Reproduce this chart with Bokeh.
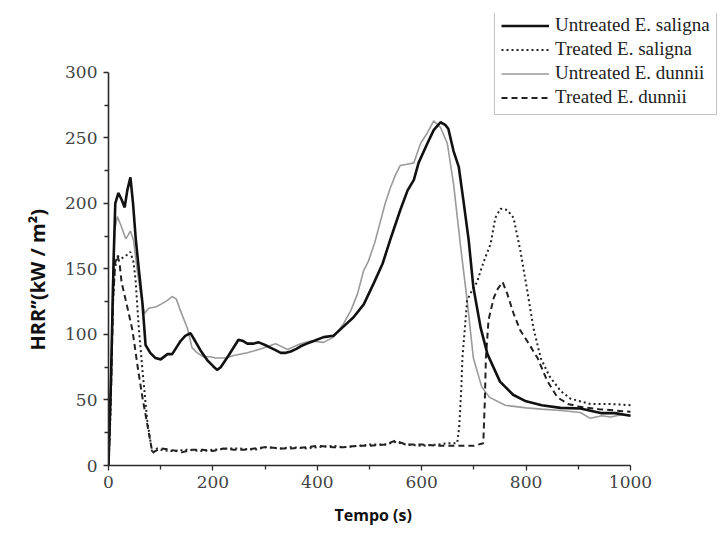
from bokeh.plotting import figure
from bokeh.models import Range1d, FixedTicker, Legend, LegendItem, Title
from bokeh.embed import file_html
from bokeh.resources import INLINE

# ---- data ----
us_x = [0, 5, 10, 13, 19, 25, 31, 36, 42, 47, 52, 58, 65, 71, 80, 90, 100, 113, 122, 130,
        138, 147, 157, 166, 176, 190, 200, 208, 215, 230, 249, 258, 266, 277, 288, 300,
        310, 320, 330, 340, 349, 360, 368, 380, 393, 412, 431, 450, 469, 489, 508, 525,
        542, 559, 573, 585, 594, 611, 623, 636, 645, 651, 661, 671, 680, 690, 699, 713,
        726, 750, 775, 800, 830, 866, 904, 943, 970, 1000]
us_y = [0, 70, 160, 200, 208, 203, 197, 210, 220, 200, 174, 150, 124, 92, 86, 82, 81, 85,
        85, 90, 95, 99, 101, 95, 88, 80, 76, 73, 75, 84, 96, 95, 93, 93, 94, 92, 90, 88,
        86, 86, 87, 89, 91, 93, 95, 98, 99, 106, 113, 123, 139, 154, 175, 195, 210, 218,
        231, 246, 256, 262, 260, 257, 240, 228, 202, 172, 136, 105, 85, 64, 54, 49, 46,
        44, 43.5, 40, 40, 38]

ts_x = [0, 4, 8, 12, 17, 25, 33, 42, 48, 52, 58, 65, 74, 84, 93, 100, 120, 150, 180, 200,
        230, 250, 280, 300, 330, 350, 380, 400, 430, 450, 480, 500, 530, 550, 570, 600,
        630, 650, 668, 672, 676, 678, 687, 697, 706, 714, 722, 732, 741, 751, 764, 776,
        789, 802, 814, 828, 845, 866, 885, 923, 960, 1000]
ts_y = [0, 40, 120, 150, 160, 158, 160, 163, 155, 141, 105, 73, 35, 9, 13, 12, 11, 12, 11,
        12, 13, 13, 12, 14, 13, 14, 13, 14, 15, 14, 15, 16, 16, 18, 16, 15, 16, 17, 17,
        30, 60, 82, 126, 134, 140, 150, 159, 169, 189, 196, 195, 189, 164, 134, 105, 82,
        68, 57, 51, 47, 47, 46]

ud_x = [0, 4, 8, 12, 17, 25, 33, 38, 42, 48, 55, 62, 69, 77, 90, 100, 113, 122, 130, 138,
        151, 160, 170, 182, 195, 205, 224, 240, 266, 291, 320, 343, 368, 387, 412, 431,
        450, 464, 477, 489, 498, 510, 520, 530, 540, 550, 559, 572, 585, 598, 611, 623,
        636, 649, 661, 674, 687, 699, 715, 730, 760, 800, 830, 866, 904, 923, 945, 962,
        985, 1000]
ud_y = [0, 50, 140, 180, 190, 182, 173, 176, 179, 172, 149, 130, 116, 120, 121, 123, 126,
        129, 127, 118, 105, 90, 86, 83, 83, 82, 82, 84, 86, 89, 93, 88.5, 93, 95, 94, 98,
        108, 118, 131, 149, 156, 170, 185, 200, 212, 222, 229, 230, 231, 246, 254, 263,
        258, 246, 215, 169, 126, 82, 60, 52, 46, 44, 43, 42, 40.5, 36, 38, 37, 39, 38]

td_x = [0, 5, 9, 13, 17, 21, 25, 36, 46, 56, 65, 74, 84, 100, 120, 140, 160, 180, 200, 220,
        240, 260, 280, 300, 330, 350, 380, 400, 430, 450, 480, 500, 530, 550, 570, 600,
        630, 650, 680, 700, 718, 721, 723, 728, 738, 746, 755, 764, 776, 789, 802, 822,
        840, 860, 880, 900, 940, 970, 1000]
td_y = [0, 60, 130, 155, 160, 155, 140, 121, 103, 75, 52, 32, 10, 13, 12, 10, 12, 12, 11,
        13, 12, 12, 13, 14, 13, 13, 14, 15, 14, 14, 15, 15, 16, 19, 16, 16, 15, 15, 15,
        15, 17, 50, 82, 111, 128, 135, 140, 131, 116, 103, 95, 82, 65, 52, 47, 45, 43,
        42, 41]

x_ticks = [0, 200, 400, 600, 800, 1000]
x_minor = [100, 300, 500, 700, 900]
y_ticks = [0, 50, 100, 150, 200, 250, 300]
y_minor = [25, 75, 125, 175, 225, 275]

labels = ["Untreated E. saligna", "Treated E. saligna", "Untreated E. dunnii", "Treated E. dunnii"]
x_title = "Tempo (s)"
y_title = "HRR’’(kW / m²)"

# The frame is widened to the window's right edge and raised to near its top so the
# legend (which sits partly outside the data area in the reference) is not clipped;
# the axes themselves are bounded to 0-1000 and 0-300.
p = figure(width=725, height=538, output_backend="svg", toolbar_location=None,
           x_range=Range1d(0, 1182), y_range=Range1d(0, 345),
           min_border_left=108, min_border_right=0, min_border_top=13, min_border_bottom=73)
p.background_fill_color = "white"
p.border_fill_color = "white"
p.outline_line_color = None
p.grid.visible = False

r_ud = p.line(ud_x, ud_y, line_color="#9a9a9a", line_width=1.6)
r_td = p.line(td_x, td_y, line_color="#222222", line_width=2.0, line_dash="6 4")
r_ts = p.line(ts_x, ts_y, line_color="#222222", line_width=2.0, line_dash="2 3")
r_us = p.line(us_x, us_y, line_color="#111111", line_width=2.6)

for ax in (p.xaxis[0], p.yaxis[0]):
    ax.axis_line_color = "#2a2a2a"
    ax.axis_line_width = 1.6
    ax.major_tick_line_color = "#2a2a2a"
    ax.minor_tick_line_color = "#2a2a2a"
    ax.major_tick_line_width = 1.3
    ax.minor_tick_line_width = 1.3
    ax.major_tick_out = 5
    ax.major_tick_in = 0
    ax.minor_tick_out = 4
    ax.minor_tick_in = 0
    ax.major_label_text_font = "DejaVu Serif"
    ax.major_label_text_font_size = "17px"
    ax.major_label_text_color = "#444444"

p.xaxis[0].bounds = (x_ticks[0], x_ticks[-1])
p.yaxis[0].bounds = (y_ticks[0], y_ticks[-1])
p.xaxis[0].ticker = FixedTicker(ticks=x_ticks, minor_ticks=x_minor)
p.yaxis[0].ticker = FixedTicker(ticks=y_ticks, minor_ticks=y_minor)
p.xaxis[0].major_label_standoff = 5
p.yaxis[0].major_label_standoff = 6

# axis titles, offset so they are centred on the bounded axes
xt = Title(text=x_title, align="left", offset=226, text_font="Open Sans",
           text_font_style="bold", text_font_size="16px", text_color="#111111", standoff=23)
yt = Title(text=y_title, align="left", offset=115, text_font="Open Sans",
           text_font_style="bold", text_font_size="20px", text_color="#111111", standoff=24)
p.add_layout(xt, "below")
p.add_layout(yt, "left")

legend = Legend(items=[LegendItem(label=labels[0], renderers=[r_us]),
                       LegendItem(label=labels[1], renderers=[r_ts]),
                       LegendItem(label=labels[2], renderers=[r_ud]),
                       LegendItem(label=labels[3], renderers=[r_td])],
                location=(386, 350))
legend.label_text_font = "Liberation Serif"
legend.label_text_font_size = "19px"
legend.label_text_color = "#222222"
legend.glyph_width = 48
legend.glyph_height = 21
legend.label_height = 21
legend.label_standoff = 6
legend.spacing = 2
legend.padding = 6
legend.margin = 0
legend.border_line_color = "#888888"
legend.border_line_width = 1.5
legend.background_fill_color = "white"
legend.background_fill_alpha = 1.0
p.add_layout(legend, "center")

open("out.html", "w").write(file_html(p, INLINE))
